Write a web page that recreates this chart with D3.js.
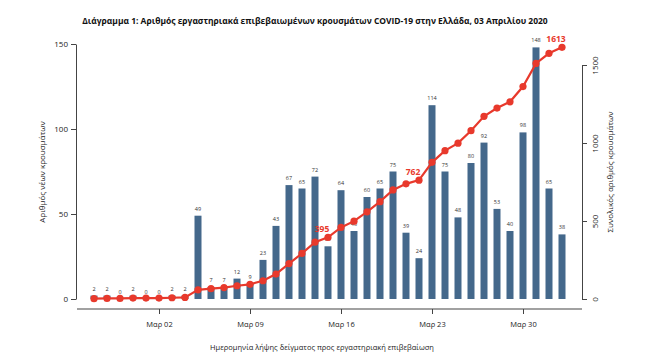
<!DOCTYPE html>
<html><head><meta charset="utf-8">
<script src="https://cdn.jsdelivr.net/npm/d3@7"></script>
<style>body{margin:0;background:#fff}svg{display:block;font-family:"Open Sans",sans-serif}</style>
</head><body><svg id="c" width="650" height="361"></svg>
<script>
const startDate = "2020-02-26";
const newCases = [2,2,0,2,0,0,2,2,49,7,7,12,9,23,43,67,65,72,31,64,40,60,65,75,39,24,114,75,48,80,92,53,40,98,148,65,38];
const tickDates = ["2020-03-02","2020-03-09","2020-03-16","2020-03-23","2020-03-30"];
const tickLabels = ["Μαρ 02","Μαρ 09","Μαρ 16","Μαρ 23","Μαρ 30"];
const leftTicks = [0,50,100,150];
const rightTicks = [0,500,1000,1500];
const highlightIdx = [18,25,36];
const title = "Διάγραμμα 1: Αριθμός εργαστηριακά επιβεβαιωμένων κρουσμάτων COVID-19 στην Ελλάδα, 03 Απριλίου 2020";
const yTitleLeft = "Αριθμός νέων κρουσμάτων";
const yTitleRight = "Συνολικός αριθμός κρουσμάτων";
const xTitle = "Ημερομηνία λήψης δείγματος προς εργαστηριακή επιβεβαίωση";

const parse = d3.utcParse("%Y-%m-%d");
const d0 = parse(startDate);
const dates = newCases.map((_, i) => d3.utcDay.offset(d0, i));
let s = 0;
const cumulative = newCases.map(v => (s += v));

const svg = d3.select("#c");
const BAR = "#44688b", RED = "#e8392c", AX = "#444";

const x = d3.scaleUtc().domain([dates[0], dates[dates.length-1]]).range([94, 562]);
const yL = d3.scaleLinear().domain([0,150]).range([299,44]);
const yR = d3.scaleLinear().domain([0,1500]).range([299,65]);

// title
const t = svg.append("text").attr("x",315).attr("y",20).attr("text-anchor","middle")
  .attr("dominant-baseline","central").attr("font-weight","bold").attr("font-size",10)
  .attr("fill","#111").text(title);
const w = t.node().getComputedTextLength();
t.attr("font-size", 10*466/w);

// bars
svg.append("g").selectAll("rect").data(newCases).join("rect")
  .attr("x",(d,i)=>x(dates[i])-3.5).attr("width",7)
  .attr("y",d=>yL(d)).attr("height",d=>yL(0)-yL(d)).attr("fill",BAR);
svg.append("g").selectAll("text").data(newCases).join("text")
  .attr("x",(d,i)=>x(dates[i])).attr("y",d=>yL(d)-5)
  .attr("text-anchor","middle").attr("font-size",5.5).attr("fill","#333").text(d=>d);

// cumulative line
svg.append("path").datum(cumulative)
  .attr("d", d3.line().x((d,i)=>x(dates[i])).y(d=>yR(d)))
  .attr("fill","none").attr("stroke",RED).attr("stroke-width",2.2);
svg.append("g").selectAll("circle").data(cumulative).join("circle")
  .attr("cx",(d,i)=>x(dates[i])).attr("cy",d=>yR(d)).attr("r",3.6).attr("fill",RED);
svg.append("g").selectAll("text").data(highlightIdx).join("text")
  .attr("x",i=>x(dates[i])-6).attr("y",i=>yR(cumulative[i])-5)
  .attr("text-anchor","middle").attr("font-size",8.5).attr("font-weight","bold")
  .attr("fill",RED).text(i=>cumulative[i]);

// left axis
const gl = svg.append("g").attr("transform","translate(76,0)")
  .call(d3.axisLeft(yL).tickValues(leftTicks).tickSize(5).tickPadding(3).tickSizeOuter(0));
gl.select(".domain").attr("stroke",AX);
gl.selectAll(".tick line").attr("stroke",AX);
gl.selectAll(".tick text").attr("font-size",8).attr("fill","#222").attr("font-family","Open Sans");

// right axis
const gr = svg.append("g").attr("transform","translate(582,0)")
  .call(d3.axisRight(yR).tickValues(rightTicks).tickFormat(d3.format("d")).tickSize(5).tickSizeOuter(0));
gr.select(".domain").attr("stroke",AX);
gr.selectAll(".tick line").attr("stroke",AX);
gr.selectAll(".tick text").attr("font-size",8).attr("fill","#222").attr("font-family","Open Sans")
  .attr("x",0).attr("dy",null).attr("text-anchor","middle").attr("dominant-baseline","central")
  .attr("transform","translate(12,0) rotate(-90)");

// bottom axis
svg.append("line").attr("x1",77).attr("x2",582).attr("y1",309).attr("y2",309).attr("stroke",AX).attr("stroke-width",1.2);
const gb = svg.append("g").attr("transform","translate(0,309)")
  .call(d3.axisBottom(x).tickValues(tickDates.map(parse)).tickFormat((d,i)=>tickLabels[i]).tickSize(5).tickPadding(8));
gb.select(".domain").remove();
gb.selectAll(".tick line").attr("stroke",AX);
gb.selectAll(".tick text").attr("font-size",7.5).attr("fill","#222").attr("font-family","Open Sans");

// axis titles
svg.append("text").attr("transform","translate(41,172) rotate(-90)").attr("text-anchor","middle")
  .attr("dominant-baseline","central").attr("font-size",8).attr("fill","#222").text(yTitleLeft);
svg.append("text").attr("transform","translate(609,172) rotate(-90)").attr("text-anchor","middle")
  .attr("dominant-baseline","central").attr("font-size",8).attr("fill","#222").text(yTitleRight);
svg.append("text").attr("x",322).attr("y",347).attr("text-anchor","middle")
  .attr("dominant-baseline","central").attr("font-size",7.5).attr("fill","#222").text(xTitle);
</script></body></html>
